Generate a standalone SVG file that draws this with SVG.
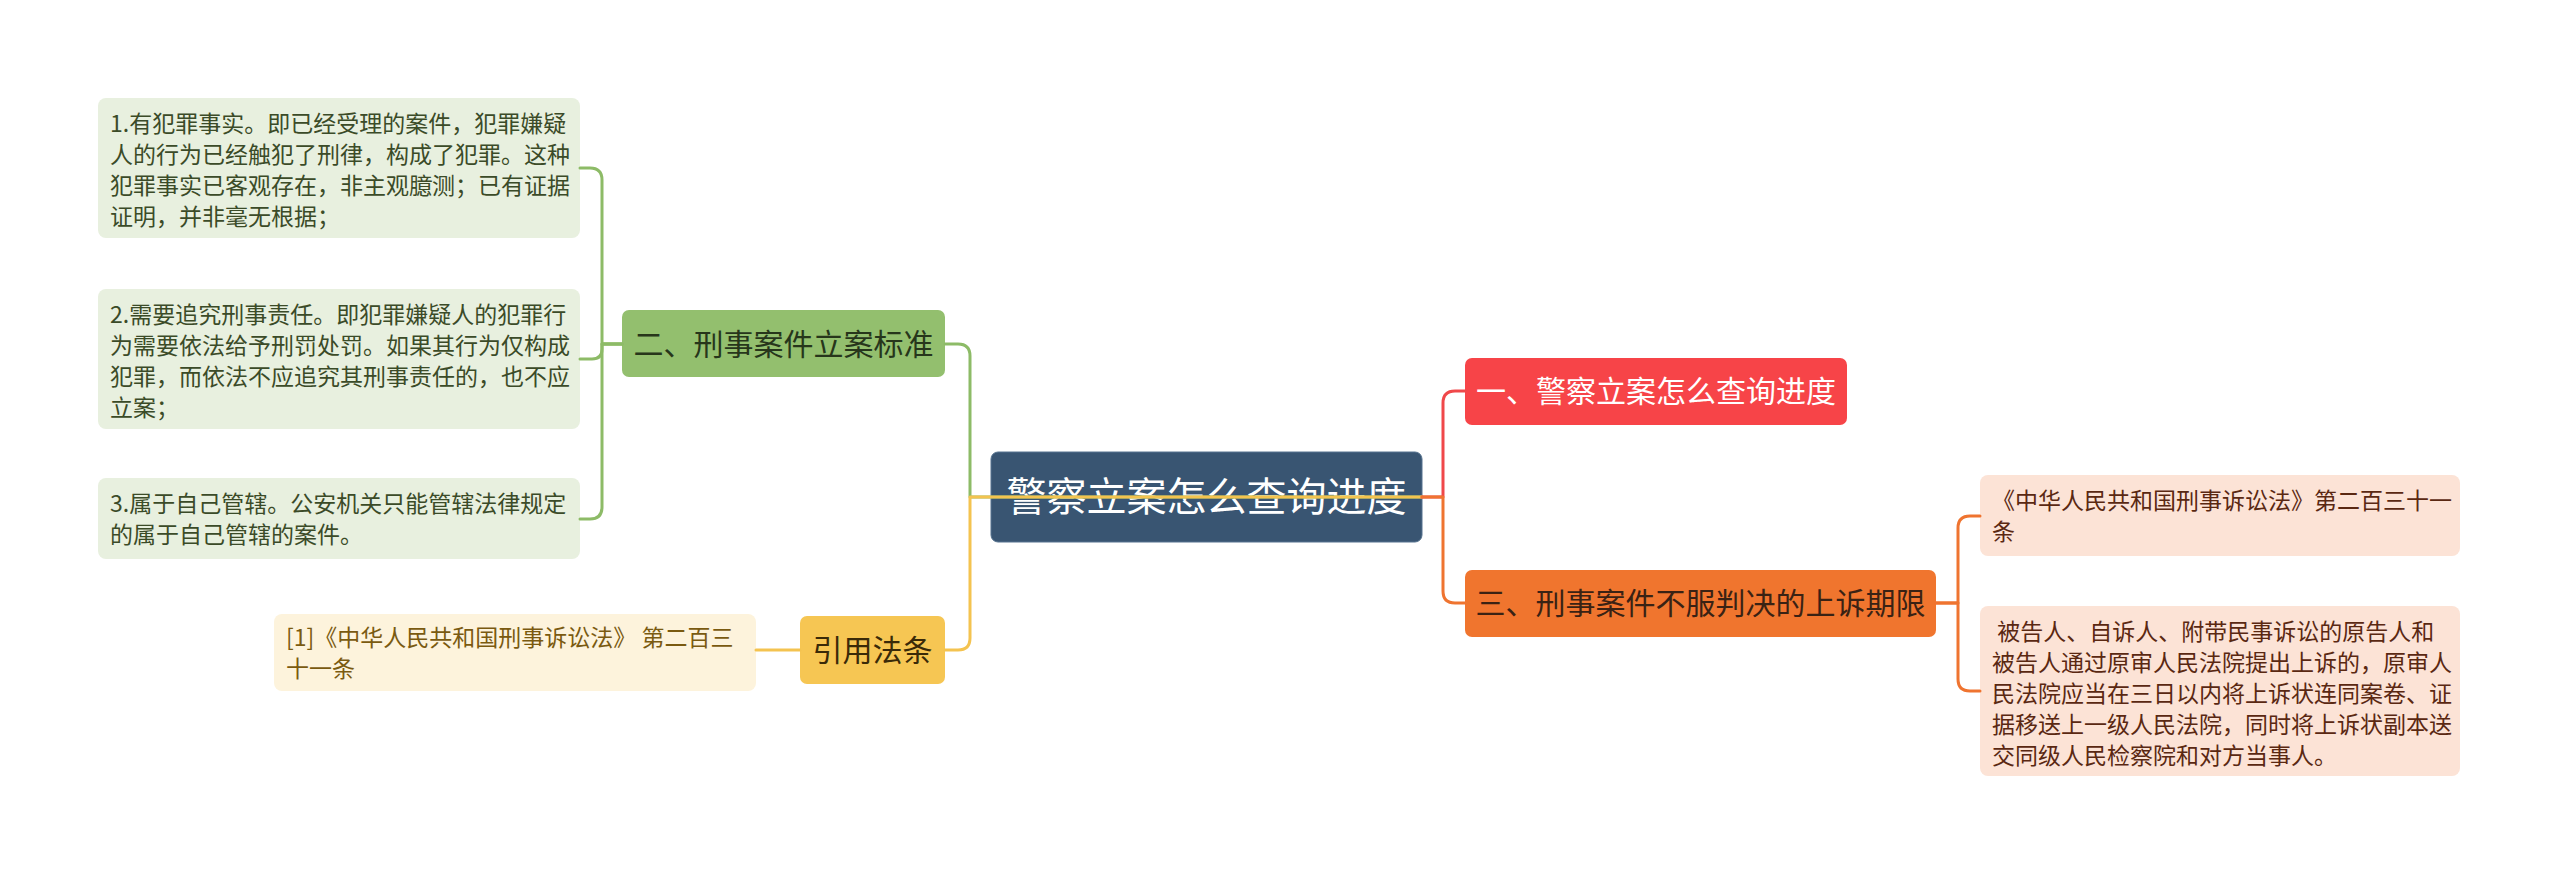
<svg xmlns="http://www.w3.org/2000/svg" width="2560" height="875" viewBox="0 0 2560 875">
<style>
text{font-family:"Noto Sans CJK SC","Noto Sans",sans-serif;}
.leaf{font-size:23px;}
.main{font-size:30px;text-anchor:middle;}
.root{font-size:40px;text-anchor:middle;fill:#ffffff;}
.c{fill:none;stroke-width:3;stroke-linecap:round;stroke-linejoin:round;}
.gl{fill:#e8f0df;} .gt{fill:#3b4b28;}
.yl{fill:#fdf3dc;} .yt{fill:#7a5a10;}
.ol{fill:#fce3d6;} .ot{fill:#5a2812;}
</style>
<rect width="2560" height="875" fill="#ffffff"/>

<g id="root">
<rect x="991" y="452" width="431" height="90" rx="7" fill="#395572" stroke="#56738f" stroke-width="1"/>
<text class="root" x="1206.5" y="511">警察立案怎么查询进度</text>
</g>

<g id="n1">
<rect x="1465" y="358" width="382" height="67" rx="7" fill="#f74448"/>
<text class="main" x="1656" y="401.5" fill="#ffffff">一、警察立案怎么查询进度</text>
</g>

<g id="n3">
<rect x="1465" y="570" width="471" height="67" rx="7" fill="#f0752e"/>
<text class="main" x="1700.5" y="614" fill="#3a2214">三、刑事案件不服判决的上诉期限</text>
</g>

<g id="n2">
<rect x="622" y="310" width="323" height="67" rx="7" fill="#93bf6e"/>
<text class="main" x="783.5" y="354.5" fill="#27361b">二、刑事案件立案标准</text>
</g>

<g id="nref">
<rect x="800" y="616" width="145" height="68" rx="7" fill="#f6c653"/>
<text class="main" x="872.5" y="660.5" fill="#3a2a08">引用法条</text>
</g>

<g id="leaf1">
<rect class="gl" x="98" y="98" width="482" height="140" rx="8"/>
<text class="leaf gt" x="110" y="132">
<tspan x="110" y="132">1.有犯罪事实。即已经受理的案件，犯罪嫌疑</tspan>
<tspan x="110" y="163">人的行为已经触犯了刑律，构成了犯罪。这种</tspan>
<tspan x="110" y="194">犯罪事实已客观存在，非主观臆测；已有证据</tspan>
<tspan x="110" y="225">证明，并非毫无根据；</tspan>
</text>
</g>

<g id="leaf2">
<rect class="gl" x="98" y="289" width="482" height="140" rx="8"/>
<text class="leaf gt">
<tspan x="110" y="323">2.需要追究刑事责任。即犯罪嫌疑人的犯罪行</tspan>
<tspan x="110" y="354">为需要依法给予刑罚处罚。如果其行为仅构成</tspan>
<tspan x="110" y="385">犯罪，而依法不应追究其刑事责任的，也不应</tspan>
<tspan x="110" y="416">立案；</tspan>
</text>
</g>

<g id="leaf3">
<rect class="gl" x="98" y="478" width="482" height="81" rx="8"/>
<text class="leaf gt">
<tspan x="110" y="512">3.属于自己管辖。公安机关只能管辖法律规定</tspan>
<tspan x="110" y="543">的属于自己管辖的案件。</tspan>
</text>
</g>

<g id="leafref">
<rect class="yl" x="274" y="614" width="482" height="77" rx="8"/>
<text class="leaf yt">
<tspan x="286" y="646">[1]《中华人民共和国刑事诉讼法》 第二百三</tspan>
<tspan x="286" y="677">十一条</tspan>
</text>
</g>

<g id="leafr1">
<rect class="ol" x="1980" y="475" width="480" height="81" rx="8"/>
<text class="leaf ot">
<tspan x="1992" y="509">《中华人民共和国刑事诉讼法》第二百三十一</tspan>
<tspan x="1992" y="540">条</tspan>
</text>
</g>

<g id="leafr2">
<rect class="ol" x="1980" y="606" width="480" height="170" rx="8"/>
<text class="leaf ot" xml:space="preserve"><tspan x="1992" y="640"> 被告人、自诉人、附带民事诉讼的原告人和</tspan><tspan x="1992" y="671">被告人通过原审人民法院提出上诉的，原审人</tspan><tspan x="1992" y="702">民法院应当在三日以内将上诉状连同案卷、证</tspan><tspan x="1992" y="733">据移送上一级人民法院，同时将上诉状副本送</tspan><tspan x="1992" y="764">交同级人民检察院和对方当事人。</tspan></text>
</g>

<g id="connectors">
<path class="c" stroke="#8dbb67" d="M622 344 H602 V180 Q602 168 590 168 H580"/>
<path class="c" stroke="#8dbb67" d="M622 344 H602 V349 Q602 359 592 359 H580"/>
<path class="c" stroke="#8dbb67" d="M622 344 H602 V507 Q602 519 590 519 H580"/>
<path class="c" stroke="#f4c350" d="M800 650 H756"/>
<path class="c" stroke="#ef7430" d="M1936 603 H1958 V528 Q1958 516 1970 516 H1980"/>
<path class="c" stroke="#ef7430" d="M1936 603 H1958 V679 Q1958 691 1970 691 H1980"/>
<path class="c" stroke="#8dbb67" d="M1422 497 H970 V356 Q970 344 958 344 H945"/>
<path class="c" stroke="#f4c350" d="M1422 497 H970 V638 Q970 650 958 650 H945"/>
<path class="c" stroke="#f0484a" d="M1422 497 H1443 V403 Q1443 391 1455 391 H1465"/>
<path class="c" stroke="#ef7430" d="M1422 497 H1443 V591 Q1443 603 1455 603 H1465"/>
</g>
</svg>
